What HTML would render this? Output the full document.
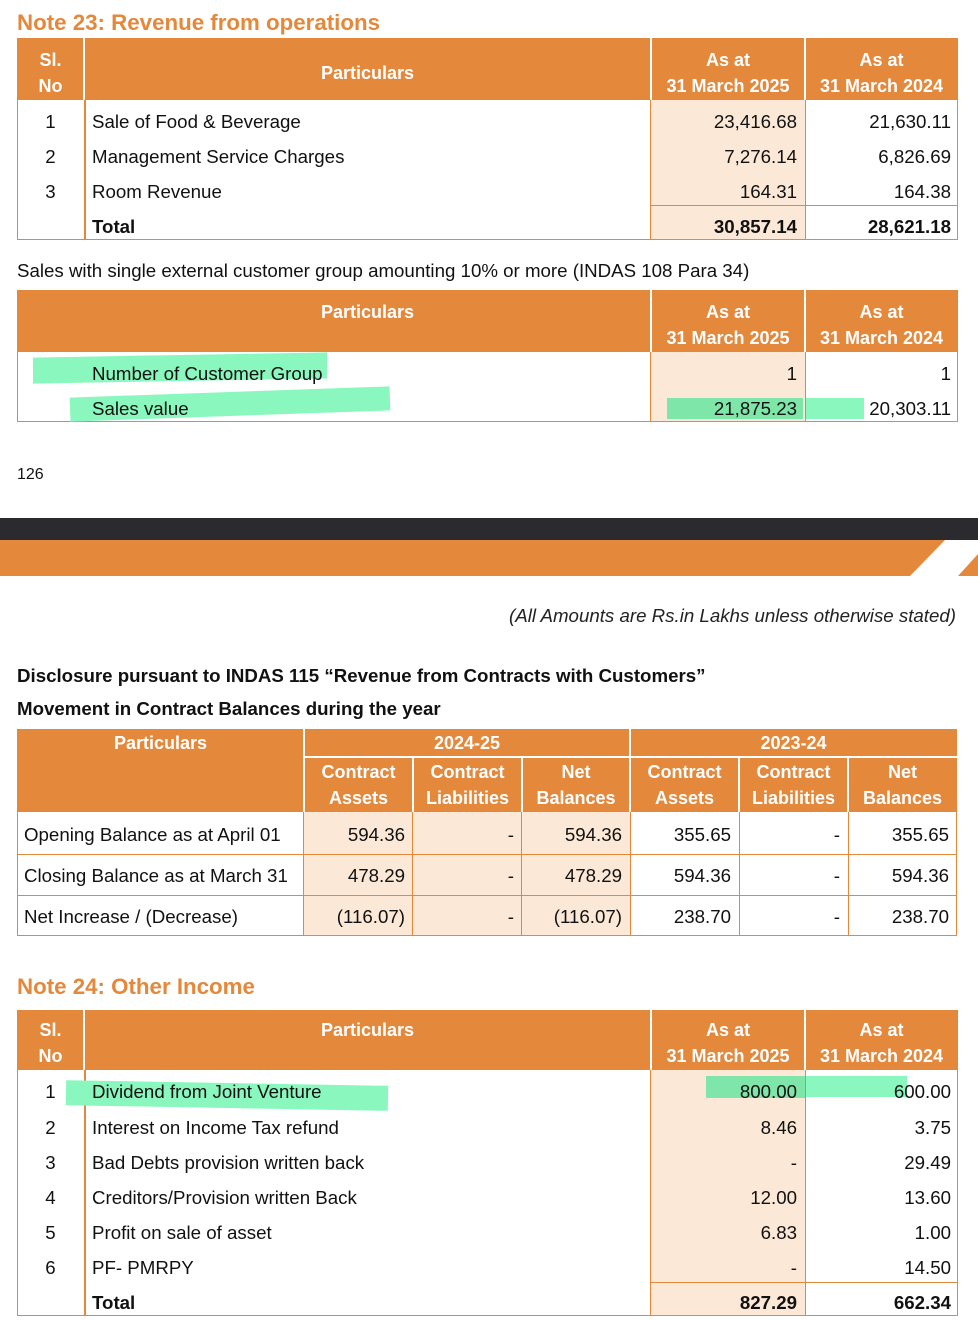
<!DOCTYPE html>
<html><head><meta charset="utf-8"><style>
body{margin:0;width:978px;height:1320px;background:#fff;position:relative;font-family:"Liberation Sans",Arial,sans-serif;color:#111;overflow:hidden}
.a{position:absolute}
.t{position:absolute;font-size:18.7px;line-height:22px;padding-top:1px;white-space:nowrap}
.r{text-align:right}
.c{text-align:center}
.h{position:absolute;color:#fff;font-weight:bold;font-size:18px;line-height:26px;text-align:center}
.o{background:#E4883C}
.bg{background:#FBE8D6}
.ti{position:absolute;color:#E4883C;font-weight:bold;font-size:22.3px}
.ln{position:absolute;background:#E4883C}
.wl{position:absolute;background:#fff}
.g{position:absolute;background:#8AF7BE}
</style></head><body>

<!-- Note 23 -->
<div class="ti" style="left:17px;top:10px">Note 23: Revenue from operations</div>
<div class="a o" style="left:17px;top:38px;width:941px;height:62px"></div>
<div class="wl" style="left:83px;top:38px;width:2px;height:62px"></div>
<div class="wl" style="left:650px;top:38px;width:2px;height:62px"></div>
<div class="wl" style="left:804px;top:38px;width:2px;height:62px"></div>
<div class="h" style="left:17px;top:47px;width:67px">Sl.<br>No</div>
<div class="h" style="left:84px;top:60px;width:567px">Particulars</div>
<div class="h" style="left:651px;top:47px;width:154px">As at<br>31 March 2025</div>
<div class="h" style="left:805px;top:47px;width:153px">As at<br>31 March 2024</div>
<div class="a bg" style="left:651px;top:100px;width:154px;height:140px"></div>
<div class="ln" style="left:17px;top:100px;width:1px;height:140px"></div>
<div class="ln" style="left:84px;top:100px;width:2px;height:140px"></div>
<div class="ln" style="left:650px;top:100px;width:1px;height:140px"></div>
<div class="ln" style="left:805px;top:100px;width:1px;height:140px"></div>
<div class="ln" style="left:957px;top:100px;width:1px;height:140px"></div>
<div class="ln" style="left:17px;top:239px;width:941px;height:1px"></div>
<div class="ln" style="left:651px;top:205px;width:307px;height:1px"></div>
<div class="t c" style="left:17px;top:110px;width:67px">1</div>
<div class="t c" style="left:17px;top:145px;width:67px">2</div>
<div class="t c" style="left:17px;top:180px;width:67px">3</div>
<div class="t" style="left:92px;top:110px">Sale of Food &amp; Beverage</div>
<div class="t" style="left:92px;top:145px">Management Service Charges</div>
<div class="t" style="left:92px;top:180px">Room Revenue</div>
<div class="t" style="left:92px;top:215px;font-weight:bold">Total</div>
<div class="t r" style="left:651px;top:110px;width:146px">23,416.68</div>
<div class="t r" style="left:651px;top:145px;width:146px">7,276.14</div>
<div class="t r" style="left:651px;top:180px;width:146px">164.31</div>
<div class="t r" style="left:651px;top:215px;width:146px;font-weight:bold">30,857.14</div>
<div class="t r" style="left:805px;top:110px;width:146px">21,630.11</div>
<div class="t r" style="left:805px;top:145px;width:146px">6,826.69</div>
<div class="t r" style="left:805px;top:180px;width:146px">164.38</div>
<div class="t r" style="left:805px;top:215px;width:146px;font-weight:bold">28,621.18</div>

<div class="t" style="left:17px;top:259px">Sales with single external customer group amounting 10% or more (INDAS 108 Para 34)</div>

<!-- Table 2 -->
<div class="a o" style="left:17px;top:290px;width:941px;height:62px"></div>
<div class="wl" style="left:650px;top:290px;width:2px;height:62px"></div>
<div class="wl" style="left:804px;top:290px;width:2px;height:62px"></div>
<div class="h" style="left:84px;top:299px;width:567px">Particulars</div>
<div class="h" style="left:651px;top:299px;width:154px">As at<br>31 March 2025</div>
<div class="h" style="left:805px;top:299px;width:153px">As at<br>31 March 2024</div>
<div class="a bg" style="left:651px;top:352px;width:154px;height:70px"></div>
<div class="ln" style="left:17px;top:352px;width:1px;height:70px"></div>
<div class="ln" style="left:650px;top:352px;width:1px;height:70px"></div>
<div class="ln" style="left:805px;top:352px;width:1px;height:70px"></div>
<div class="ln" style="left:957px;top:352px;width:1px;height:70px"></div>
<div class="ln" style="left:17px;top:421px;width:941px;height:1px"></div>
<div class="g" style="left:33px;top:355px;width:294px;height:26px;transform:skewY(-1deg)"></div>
<div class="g" style="left:70px;top:392px;width:320px;height:24px;transform:rotate(-2deg)"></div>
<div class="g" style="left:667px;top:398px;width:136px;height:21px;background:#7DE6A8"></div>
<div class="g" style="left:806px;top:398px;width:58px;height:21px"></div>
<div class="t" style="left:92px;top:362px">Number of Customer Group</div>
<div class="t" style="left:92px;top:397px">Sales value</div>
<div class="t r" style="left:651px;top:362px;width:146px">1</div>
<div class="t r" style="left:651px;top:397px;width:146px">21,875.23</div>
<div class="t r" style="left:805px;top:362px;width:146px">1</div>
<div class="t r" style="left:805px;top:397px;width:146px">20,303.11</div>

<div class="t" style="left:17px;top:463px;font-size:16px">126</div>

<!-- band -->
<div class="a" style="left:0;top:518px;width:978px;height:22px;background:#2B2A2F"></div>
<svg class="a" style="left:0;top:540px" width="978" height="36">
<polygon points="0,0 945,0 910,36 0,36" fill="#E4883C"/>
<polygon points="978,14 978,36 958,36" fill="#E4883C"/>
</svg>

<div class="t" style="right:22px;top:604px;font-style:italic;color:#222">(All Amounts are Rs.in Lakhs unless otherwise stated)</div>
<div class="t" style="left:17px;top:664px;font-weight:bold">Disclosure pursuant to INDAS 115 “Revenue from Contracts with Customers”</div>
<div class="t" style="left:17px;top:697px;font-weight:bold">Movement in Contract Balances during the year</div>

<!-- Table 3 -->
<div class="a o" style="left:17px;top:729px;width:940px;height:83px"></div>
<div class="wl" style="left:303px;top:729px;width:2px;height:83px"></div>
<div class="wl" style="left:629px;top:729px;width:2px;height:83px"></div>
<div class="wl" style="left:304px;top:756px;width:653px;height:2px"></div>
<div class="wl" style="left:412px;top:757px;width:2px;height:55px"></div>
<div class="wl" style="left:521px;top:757px;width:2px;height:55px"></div>
<div class="wl" style="left:738px;top:757px;width:2px;height:55px"></div>
<div class="wl" style="left:847px;top:757px;width:2px;height:55px"></div>
<div class="h" style="left:17px;top:730px;width:287px">Particulars</div>
<div class="h" style="left:304px;top:730px;width:326px">2024-25</div>
<div class="h" style="left:630px;top:730px;width:327px">2023-24</div>
<div class="h" style="left:304px;top:759px;width:109px">Contract<br>Assets</div>
<div class="h" style="left:413px;top:759px;width:109px">Contract<br>Liabilities</div>
<div class="h" style="left:522px;top:759px;width:108px">Net<br>Balances</div>
<div class="h" style="left:630px;top:759px;width:109px">Contract<br>Assets</div>
<div class="h" style="left:739px;top:759px;width:109px">Contract<br>Liabilities</div>
<div class="h" style="left:848px;top:759px;width:109px">Net<br>Balances</div>
<div class="a bg" style="left:304px;top:812px;width:326px;height:124px"></div>
<div class="ln" style="left:17px;top:812px;width:1px;height:124px"></div>
<div class="ln" style="left:303px;top:812px;width:1px;height:124px"></div>
<div class="ln" style="left:412px;top:812px;width:1px;height:124px"></div>
<div class="ln" style="left:521px;top:812px;width:1px;height:124px"></div>
<div class="ln" style="left:630px;top:812px;width:1px;height:124px"></div>
<div class="ln" style="left:739px;top:812px;width:1px;height:124px"></div>
<div class="ln" style="left:848px;top:812px;width:1px;height:124px"></div>
<div class="ln" style="left:956px;top:812px;width:1px;height:124px"></div>
<div class="ln" style="left:17px;top:854px;width:940px;height:1px"></div>
<div class="ln" style="left:17px;top:895px;width:940px;height:1px"></div>
<div class="ln" style="left:17px;top:935px;width:940px;height:1px"></div>
<div class="t" style="left:24px;top:823px">Opening Balance as at April 01</div>
<div class="t" style="left:24px;top:864px">Closing Balance as at March 31</div>
<div class="t" style="left:24px;top:905px">Net Increase / (Decrease)</div>
<div class="t r" style="left:304px;top:823px;width:101px">594.36</div>
<div class="t r" style="left:413px;top:823px;width:101px">-</div>
<div class="t r" style="left:522px;top:823px;width:100px">594.36</div>
<div class="t r" style="left:630px;top:823px;width:101px">355.65</div>
<div class="t r" style="left:739px;top:823px;width:101px">-</div>
<div class="t r" style="left:848px;top:823px;width:101px">355.65</div>
<div class="t r" style="left:304px;top:864px;width:101px">478.29</div>
<div class="t r" style="left:413px;top:864px;width:101px">-</div>
<div class="t r" style="left:522px;top:864px;width:100px">478.29</div>
<div class="t r" style="left:630px;top:864px;width:101px">594.36</div>
<div class="t r" style="left:739px;top:864px;width:101px">-</div>
<div class="t r" style="left:848px;top:864px;width:101px">594.36</div>
<div class="t r" style="left:304px;top:905px;width:101px">(116.07)</div>
<div class="t r" style="left:413px;top:905px;width:101px">-</div>
<div class="t r" style="left:522px;top:905px;width:100px">(116.07)</div>
<div class="t r" style="left:630px;top:905px;width:101px">238.70</div>
<div class="t r" style="left:739px;top:905px;width:101px">-</div>
<div class="t r" style="left:848px;top:905px;width:101px">238.70</div>

<!-- Note 24 -->
<div class="ti" style="left:17px;top:974px">Note 24: Other Income</div>
<div class="a o" style="left:17px;top:1010px;width:941px;height:60px"></div>
<div class="wl" style="left:83px;top:1010px;width:2px;height:60px"></div>
<div class="wl" style="left:650px;top:1010px;width:2px;height:60px"></div>
<div class="wl" style="left:804px;top:1010px;width:2px;height:60px"></div>
<div class="h" style="left:17px;top:1017px;width:67px">Sl.<br>No</div>
<div class="h" style="left:84px;top:1017px;width:567px">Particulars</div>
<div class="h" style="left:651px;top:1017px;width:154px">As at<br>31 March 2025</div>
<div class="h" style="left:805px;top:1017px;width:153px">As at<br>31 March 2024</div>
<div class="a bg" style="left:651px;top:1070px;width:154px;height:246px"></div>
<div class="ln" style="left:17px;top:1070px;width:1px;height:246px"></div>
<div class="ln" style="left:84px;top:1070px;width:2px;height:246px"></div>
<div class="ln" style="left:650px;top:1070px;width:1px;height:246px"></div>
<div class="ln" style="left:805px;top:1070px;width:1px;height:246px"></div>
<div class="ln" style="left:957px;top:1070px;width:1px;height:246px"></div>
<div class="ln" style="left:17px;top:1315px;width:941px;height:1px"></div>
<div class="ln" style="left:651px;top:1282px;width:307px;height:1px"></div>
<div class="g" style="left:66px;top:1083px;width:322px;height:25px;transform:rotate(1deg)"></div>
<div class="g" style="left:706px;top:1076px;width:99px;height:22px;background:#7DE6A8"></div>
<div class="g" style="left:806px;top:1076px;width:101px;height:21px"></div>
<div class="t c" style="left:17px;top:1080px;width:67px">1</div>
<div class="t c" style="left:17px;top:1116px;width:67px">2</div>
<div class="t c" style="left:17px;top:1151px;width:67px">3</div>
<div class="t c" style="left:17px;top:1186px;width:67px">4</div>
<div class="t c" style="left:17px;top:1221px;width:67px">5</div>
<div class="t c" style="left:17px;top:1256px;width:67px">6</div>
<div class="t" style="left:92px;top:1080px">Dividend from Joint Venture</div>
<div class="t" style="left:92px;top:1116px">Interest on Income Tax refund</div>
<div class="t" style="left:92px;top:1151px">Bad Debts provision written back</div>
<div class="t" style="left:92px;top:1186px">Creditors/Provision written Back</div>
<div class="t" style="left:92px;top:1221px">Profit on sale of asset</div>
<div class="t" style="left:92px;top:1256px">PF- PMRPY</div>
<div class="t" style="left:92px;top:1291px;font-weight:bold">Total</div>
<div class="t r" style="left:651px;top:1080px;width:146px">800.00</div>
<div class="t r" style="left:651px;top:1116px;width:146px">8.46</div>
<div class="t r" style="left:651px;top:1151px;width:146px">-</div>
<div class="t r" style="left:651px;top:1186px;width:146px">12.00</div>
<div class="t r" style="left:651px;top:1221px;width:146px">6.83</div>
<div class="t r" style="left:651px;top:1256px;width:146px">-</div>
<div class="t r" style="left:651px;top:1291px;width:146px;font-weight:bold">827.29</div>
<div class="t r" style="left:805px;top:1080px;width:146px">600.00</div>
<div class="t r" style="left:805px;top:1116px;width:146px">3.75</div>
<div class="t r" style="left:805px;top:1151px;width:146px">29.49</div>
<div class="t r" style="left:805px;top:1186px;width:146px">13.60</div>
<div class="t r" style="left:805px;top:1221px;width:146px">1.00</div>
<div class="t r" style="left:805px;top:1256px;width:146px">14.50</div>
<div class="t r" style="left:805px;top:1291px;width:146px;font-weight:bold">662.34</div>
</body></html>
